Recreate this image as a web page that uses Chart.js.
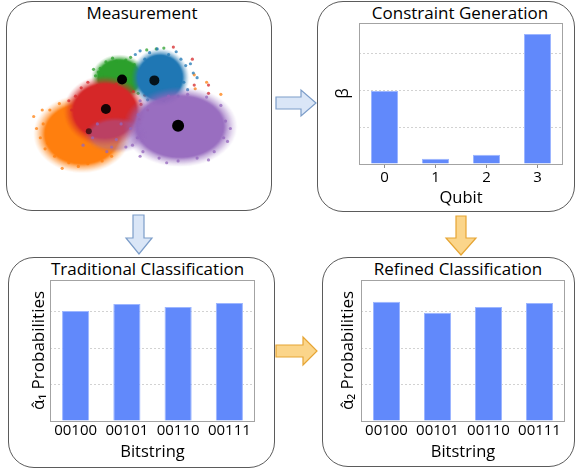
<!DOCTYPE html>
<html>
<head>
<meta charset="utf-8">
<script src="https://cdn.jsdelivr.net/npm/chart.js@4/dist/chart.umd.min.js"></script>
<style>
html,body{margin:0;padding:0;background:#fff;}
#fig{position:relative;width:576px;height:471px;overflow:hidden;font-family:"Open Sans",sans-serif;color:#000;}
.box{position:absolute;box-sizing:border-box;border:1.3px solid #5b5b5b;border-radius:26px;}
.ttl{position:absolute;width:300px;text-align:center;font-size:17px;line-height:20px;white-space:nowrap;}
canvas{position:absolute;}
svg{position:absolute;left:0;top:0;}
</style>
</head>
<body>
<div id="fig">
  <div class="box" style="left:6px;top:1px;width:266px;height:210px;"></div>
  <div class="box" style="left:317px;top:1px;width:258px;height:211px;"></div>
  <div class="box" style="left:8px;top:257px;width:267px;height:211px;"></div>
  <div class="box" style="left:322px;top:257px;width:253px;height:210px;"></div>

  <div class="ttl" style="left:-8px;top:2.5px;">Measurement</div>
  <div class="ttl" style="left:310px;top:2.5px;">Constraint Generation</div>
  <div class="ttl" style="left:-2.5px;top:258.5px;">Traditional Classification</div>
  <div class="ttl" style="left:308px;top:258.5px;">Refined Classification</div>

  <svg width="576" height="471">
    <!-- flow arrows between panels -->
    <polygon points="276,97 301,97 301,90 316,103 301,116 301,109 276,109" fill="#dae6f7" stroke="#7c9dc9" stroke-width="1.2"/>
    <polygon points="133,215 144,215 144,238 152,238 139,254 126,238 133,238" fill="#dae6f7" stroke="#7c9dc9" stroke-width="1.2"/>
    <polygon points="456,216 466,216 466,238 476,238 461,255 446,238 456,238" fill="#fbd58a" stroke="#e6a534" stroke-width="1.2"/>
    <polygon points="276,345 303,345 303,337 317,351 303,365 303,357 276,357" fill="#fbd58a" stroke="#e6a534" stroke-width="1.2"/>
  </svg>

  <canvas id="scatter" width="240" height="160" style="left:22px;top:30px;"></canvas>
  <canvas id="constraint" width="258" height="212" style="left:317px;top:0px;"></canvas>
  <canvas id="traditional" width="267" height="211" style="left:8px;top:257px;"></canvas>
  <canvas id="refined" width="253" height="211" style="left:322px;top:257px;"></canvas>
</div>

<script>
// ---- readout clouds (I/Q plane, arbitrary units) ----
const stateMeans     = [[9.9,11.3],[13.3,11.2],[8.2,8.1],[6.4,5.7],[15.8,6.3]];
const greenCore      = [[9.6,11.5]];
const blueCore       = [[13.9,11.5]];
const redCore        = [[8.1,7.9]];
const orangeCore     = [[5.7,5.4]];
const purpleCore     = [[16.0,6.2]];
const purpleSpill    = [[9.2,5.3]];
const greenSpread  = [[7.6,12.5],[7.8,11.8],[7.1,11.7],[9.3,13.3],[10.8,13.7],[12.5,14.5],[13.5,14.6],[14.3,14.7],[8.6,10.0],[11.6,9.8],[8.2,13.2],[10.3,13.4],[7.4,12.1],[11.2,12.9],[6.9,12.4],[8.9,13.6]];
const blueSpread   = [[11.3,14.0],[12.8,14.2],[14.8,14.0],[16.1,13.5],[16.6,12.8],[16.4,11.0],[15.8,9.5],[14.3,9.0],[12.6,9.1],[17.4,12.0],[17.8,11.5],[12.3,13.5],[16.8,10.2],[13.6,14.6],[15.6,14.3],[11.8,14.4],[17.1,13.0]];
const redSpread    = [[17.3,13.5],[15.3,14.8],[17.5,10.7],[19.0,10.7],[19.0,9.8],[5.0,9.5],[4.6,8.0],[7.3,10.6],[9.3,10.8],[11.1,10.0],[11.9,8.6],[11.7,7.0],[6.3,11.0],[9.8,11.0],[4.3,9.0],[12.3,9.6],[5.6,10.4],[12.6,8.0]];
const orangeSpread = [[1.5,8.0],[1.6,6.5],[1.3,5.0],[1.8,3.8],[2.8,3.0],[4.3,2.3],[6.3,2.2],[7.8,2.5],[2.3,8.0],[3.3,8.7],[8.8,3.0],[17.5,11.8],[18.8,11.0],[20.3,9.7],[17.6,10.3],[0.9,6.0],[2.1,4.4],[5.3,1.9],[0.6,7.3],[3.6,1.7]];
const purpleSpread = [[11.8,9.0],[11.6,7.5],[11.5,5.0],[12.1,3.5],[13.8,2.8],[15.8,2.5],[17.8,2.8],[19.6,3.5],[20.6,5.0],[20.8,6.8],[20.3,8.5],[18.8,9.4],[16.8,9.7],[14.8,9.5],[21.3,6.0],[11.8,3.0],[6.8,5.0],[8.8,4.0],[10.3,4.0],[10.8,6.0],[9.8,6.5],[7.3,6.5],[5.8,4.2],[9.3,4.8],[11.0,4.2],[8.3,3.5],[14.6,2.3],[19.0,2.6],[21.0,4.6]];

// ---- bar panels ----
const qubits      = ['0','1','2','3'];
const betaValues  = [1.99, 0.14, 0.25, 3.54];
const bitstrings  = ['00100','00101','00110','00111'];
const alpha1Probs = [3.03, 3.22, 3.14, 3.25];
const alpha2Probs = [3.28, 2.98, 3.14, 3.25];
const betaAxisMax = 3.84;
const probAxisMax = 3.88;

const FONT = '"Open Sans", sans-serif';
const INK = '#000';
const pts = a => a.map(p => ({x: p[0], y: p[1]}));

// elliptical cloud sprite used as a point style: dense core, thin ragged rim
function cloud(rgb, rx, ry, a) {
  const k = 1.22;
  const w = Math.ceil(rx * k * 2), h = Math.ceil(ry * k * 2);
  const cv = document.createElement('canvas');
  cv.width = w; cv.height = h;
  const g = cv.getContext('2d');
  g.translate(w / 2, h / 2);
  g.scale(rx * k, ry * k);
  const grd = g.createRadialGradient(0, 0, 0, 0, 0, 1);
  grd.addColorStop(0, `rgba(${rgb},${a})`);
  grd.addColorStop(0.76, `rgba(${rgb},${a})`);
  grd.addColorStop(0.83, `rgba(${rgb},${a * 0.6})`);
  grd.addColorStop(0.93, `rgba(${rgb},${a * 0.2})`);
  grd.addColorStop(1, `rgba(${rgb},0)`);
  g.fillStyle = grd;
  g.beginPath(); g.arc(0, 0, 1, 0, Math.PI * 2); g.fill();
  return cv;
}

const C = {
  blue: '31,119,180', orange: '255,127,14', green: '44,160,44', red: '214,39,40', purple: '148,103,189'
};

function coreSet(data, rgb, rx, ry, a, order) {
  return {data: pts(data), pointStyle: cloud(rgb, rx, ry, a), pointRadius: 3, order, clip: false};
}
function spreadSet(data, rgb, order) {
  return {data: pts(data), pointStyle: 'circle', pointRadius: 1.6, backgroundColor: `rgba(${rgb},0.75)`, order, clip: false};
}

new Chart(document.getElementById('scatter'), {
  type: 'scatter',
  data: {
    datasets: [
      coreSet(orangeCore, C.orange, 40, 32, 1, 20),
      spreadSet(orangeSpread, C.orange, 19),
      coreSet(greenCore, C.green, 23, 19, 1, 18),
      spreadSet(greenSpread, C.green, 17),
      coreSet(redCore, C.red, 34, 29, 1, 16),
      spreadSet(redSpread, C.red, 15),
      coreSet(blueCore, C.blue, 24, 24, 1, 14),
      spreadSet(blueSpread, C.blue, 13),
      coreSet(purpleCore, C.purple, 47, 33, 0.95, 12),
      coreSet(purpleSpill, C.purple, 26, 15, 0.4, 11),
      spreadSet(purpleSpread, C.purple, 10),
      {data: pts(stateMeans), pointStyle: 'circle', pointRadius: [5, 5, 5, 3, 6],
       backgroundColor: ['#000', 'rgba(0,0,0,0.85)', 'rgba(0,0,0,0.9)', 'rgba(0,0,0,0.6)', '#000'], order: 0, clip: false}
    ]
  },
  options: {
    responsive: false, animation: false, devicePixelRatio: 1,
    layout: {padding: 0},
    elements: {point: {borderWidth: 0}},
    plugins: {legend: {display: false}, tooltip: {enabled: false}},
    scales: {
      x: {display: false, min: 0, max: 24},
      y: {display: false, min: 0, max: 16}
    }
  }
});

// plot frame around each bar panel
const frame = {
  id: 'frame',
  afterDatasetsDraw(chart) {
    const a = chart.chartArea, ctx = chart.ctx;
    ctx.save();
    ctx.strokeStyle = '#a3a3a3';
    ctx.lineWidth = 1;
    ctx.strokeRect(Math.round(a.left) + 0.5, Math.round(a.top) + 0.5,
                   Math.round(a.right - a.left) - 1, Math.round(a.bottom - a.top));
    ctx.restore();
  }
};

function barPanel(id, labels, values, yMax, yTitle, xTitle, g) {
  return new Chart(document.getElementById(id), {
    type: 'bar',
    data: {
      labels,
      datasets: [{
        data: values, backgroundColor: '#6189fb', borderColor: '#9db6ff', borderWidth: 1,
        barPercentage: 0.53, categoryPercentage: 1
      }]
    },
    options: {
      responsive: false, animation: false, devicePixelRatio: 1,
      layout: {padding: {top: 23, right: g.padR, left: 0, bottom: 0}},
      plugins: {legend: {display: false}, tooltip: {enabled: false}},
      scales: {
        x: {
          grid: {display: true, drawOnChartArea: false, drawTicks: g.tick > 0, tickLength: g.tick, offset: false, color: '#8c8c8c'},
          border: {display: false},
          ticks: {font: {family: FONT, size: 15}, color: INK, padding: 0.5, maxRotation: 0, autoSkip: false},
          title: {display: true, text: xTitle, font: {family: FONT, size: 16.5}, color: INK, padding: {top: 0, bottom: g.xPad}},
          afterFit: s => { s.height = g.xH; }
        },
        y: {
          min: 0, max: yMax,
          ticks: {display: false, stepSize: 1},
          grid: {color: '#d2d2d2', drawTicks: false},
          border: {display: false, dash: [2, 2]},
          title: {display: true, text: yTitle, font: {family: FONT, size: 17}, color: INK, padding: {top: g.yPad, bottom: 0}},
          afterFit: s => { s.width = g.yW; }
        }
      }
    },
    plugins: [frame]
  });
}

barPanel('constraint', qubits, betaValues, betaAxisMax, 'β', 'Qubit',
         {padR: 12, yW: 42, yPad: 15.8, xH: 48, xPad: 3.4, tick: 4});
barPanel('traditional', bitstrings, alpha1Probs, probAxisMax, 'α̂₁ Probabilities', 'Bitstring',
         {padR: 20, yW: 42, yPad: 20.8, xH: 47, xPad: 5.8, tick: 0});
barPanel('refined', bitstrings, alpha2Probs, probAxisMax, 'α̂₂ Probabilities', 'Bitstring',
         {padR: 10, yW: 39, yPad: 15.8, xH: 47, xPad: 5.8, tick: 0});
</script>
</body>
</html>
